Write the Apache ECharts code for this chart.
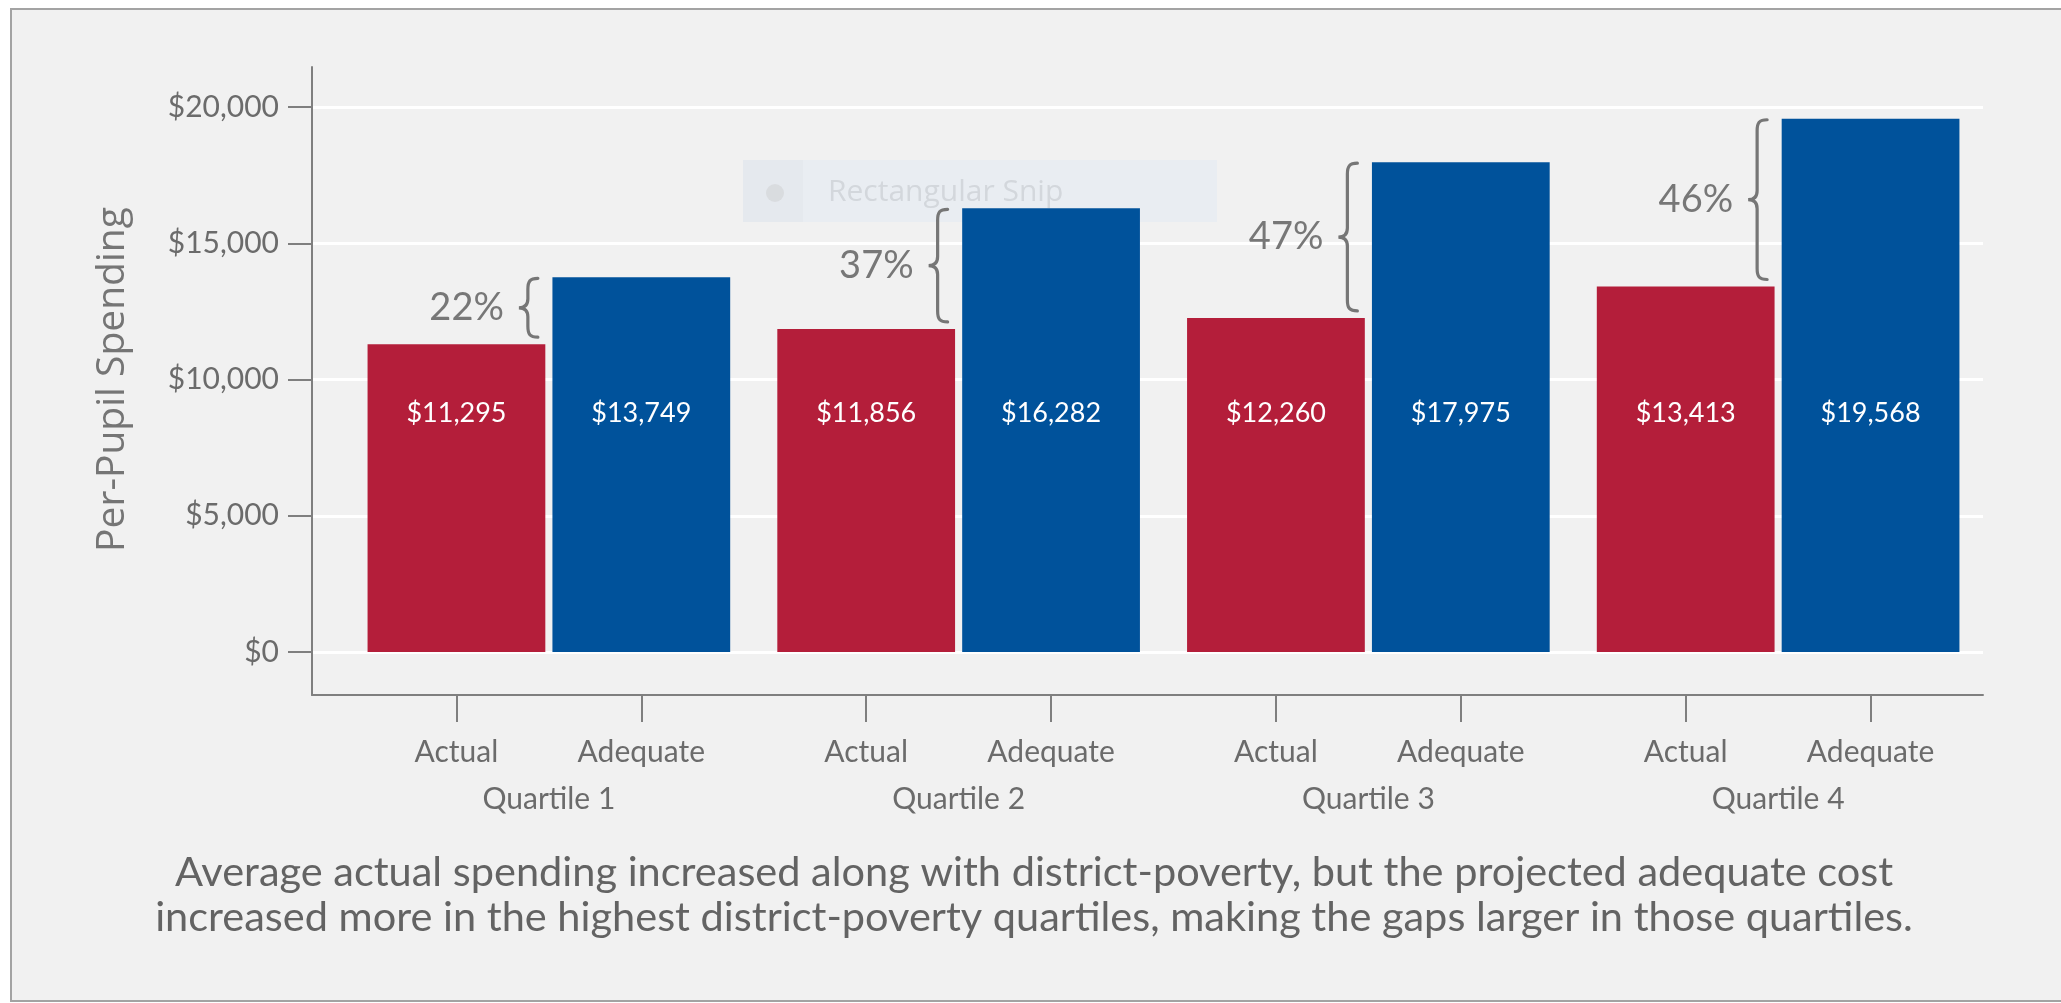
<!DOCTYPE html>
<html>
<head>
<meta charset="utf-8">
<script src="https://cdn.jsdelivr.net/npm/echarts@6/dist/echarts.min.js"></script>
<style>
  html, body { margin: 0; padding: 0; background: #ffffff; }
  #chart { width: 2061px; height: 1003px; }
</style>
</head>
<body>
<div id="chart"></div>
<script>
// ---- data ----
const quartiles = ['Quartile 1', 'Quartile 2', 'Quartile 3', 'Quartile 4'];
const barNames = ['Actual', 'Adequate'];
const actual = [11295, 11856, 12260, 13413];
const adequate = [13749, 16282, 17975, 19568];
const gapLabels = ['22%', '37%', '47%', '46%'];
const yMin = 0, yMax = 20000, yStep = 5000;
const caption = 'Average actual spending increased along with district-poverty, but the projected adequate cost\nincreased more in the highest district-poverty quartiles, making the gaps larger in those quartiles.';

// ---- layout / style ----
const CAT_GAP = 0.115, BAR_GAP = 0.04;
const barW = (1 - CAT_GAP) / (2 + BAR_GAP);
const half = barW * (1 + BAR_GAP) / 2;
const tickPos = [];
quartiles.forEach((q, i) => { tickPos.push(i + 0.5 - half, i + 0.5 + half); });

const gray = '#7f7f7f';
const labelColor = '#6b6b6b';
const FONT = 'Lato';

const money = v => '$' + Number(v).toLocaleString('en-US');

const chart = echarts.init(document.getElementById('chart'), null, { renderer: 'canvas' });

function renderBrace(params, api) {
  const i = api.value(0);
  const cx = api.coord([i, 0])[0];
  const yT = api.coord([i, api.value(2)])[1] + 1;
  const yB = api.coord([i, api.value(1)])[1] - 7;
  const sx = cx - 21;
  const m = (yT + yB) / 2;
  const p = [
    'M', sx + 10, yT,
    'C', sx + 2, yT, sx, yT + 3, sx, yT + 11,
    'L', sx, m - 9,
    'C', sx, m - 3, sx - 3, m, sx - 9, m,
    'C', sx - 3, m, sx, m + 3, sx, m + 9,
    'L', sx, yB - 11,
    'C', sx, yB - 3, sx + 2, yB, sx + 10, yB
  ].join(' ');
  return {
    type: 'group',
    children: [
      { type: 'path', shape: { pathData: p }, style: { fill: 'none', stroke: '#767676', lineWidth: 3.2, lineCap: 'round' } },
      { type: 'text', style: { text: gapLabels[params.dataIndex], x: sx - 24, y: m, align: 'right', verticalAlign: 'middle', fontFamily: FONT, fontSize: 38, fill: '#777777' } }
    ]
  };
}

const option = {
  backgroundColor: '#ffffff',
  animation: false,
  graphic: [
    { type: 'rect', z: -10, shape: { x: 11, y: 9, width: 2080, height: 992 }, style: { fill: '#f1f1f1', stroke: '#a3a3a3', lineWidth: 2 } },
    { type: 'group', z: 1, children: [
      { type: 'rect', shape: { x: 743, y: 160, width: 474, height: 62 }, style: { fill: '#e9edf2' } },
      { type: 'rect', shape: { x: 743, y: 160, width: 60, height: 62 }, style: { fill: '#e5e9ee' } },
      { type: 'circle', shape: { cx: 775, cy: 193, r: 9 }, style: { fill: '#d9dcdf' } },
      { type: 'text', style: { text: 'Rectangular Snip', x: 828, y: 192, verticalAlign: 'middle', fontFamily: 'Open Sans', fontSize: 30, fill: '#d3d7dc' } }
    ] },
    { type: 'text', z: 5, style: { text: caption, x: 1034, y: 895, align: 'center', verticalAlign: 'middle', fontFamily: FONT, fontSize: 41.5, lineHeight: 45, fill: '#636363' } }
  ],
  grid: [
    { left: 312, right: 78, top: 107, bottom: 351 },
    { left: 344, right: 78, top: 107, bottom: 351 },
    { left: 312, right: 78, top: 67, bottom: 308 }
  ],
  xAxis: [
    { type: 'category', gridIndex: 1, position: 'bottom', data: quartiles, offset: 43,
      axisLine: { show: false }, axisTick: { show: false },
      axisLabel: { margin: 89, fontFamily: FONT, fontSize: 30, color: labelColor, lineHeight: 30 } },
    { type: 'value', gridIndex: 1, position: 'bottom', min: 0, max: quartiles.length, offset: 43,
      axisLine: { show: false }, splitLine: { show: false },
      axisTick: { show: true, customValues: tickPos, length: 27, lineStyle: { color: gray, width: 2 } },
      axisLabel: { show: true, customValues: tickPos, margin: 42, fontFamily: FONT, fontSize: 30, color: labelColor, lineHeight: 30,
        formatter: v => { const k = tickPos.findIndex(p => Math.abs(p - v) < 1e-6); return k < 0 ? '' : barNames[k % 2]; } } },
    { type: 'value', gridIndex: 0, show: false },
    { type: 'value', gridIndex: 2, position: 'bottom', min: 0, max: 1,
      axisLine: { show: true, onZero: false, lineStyle: { color: gray, width: 2 } },
      axisTick: { show: false }, axisLabel: { show: false }, splitLine: { show: false } }
  ],
  yAxis: [
    { type: 'value', gridIndex: 0, position: 'left', min: yMin, max: yMax, interval: yStep,
      name: 'Per-Pupil Spending', nameLocation: 'middle', nameGap: 180,
      nameTextStyle: { fontFamily: 'Open Sans', fontSize: 39, color: '#757575' },
      axisLine: { show: false },
      axisTick: { show: true, length: 24, lineStyle: { color: gray, width: 2 } },
      axisLabel: { margin: 33, fontFamily: FONT, fontSize: 30, color: labelColor, formatter: money },
      splitLine: { show: true, lineStyle: { color: '#ffffff', width: 3 } } },
    { type: 'value', gridIndex: 1, min: yMin, max: yMax, show: false },
    { type: 'value', gridIndex: 2, position: 'left', min: 0, max: 1,
      axisLine: { show: true, onZero: false, lineStyle: { color: gray, width: 2 } },
      axisTick: { show: false }, axisLabel: { show: false }, splitLine: { show: false } }
  ],
  series: [
    { type: 'bar', name: barNames[0], xAxisIndex: 0, yAxisIndex: 1, data: actual,
      barGap: (BAR_GAP * 100) + '%', barCategoryGap: (CAT_GAP * 100) + '%',
      itemStyle: { color: '#B41E3A' },
      label: { show: true, position: 'insideBottom', distance: 225, formatter: p => money(p.value),
        color: '#ffffff', fontFamily: FONT, fontSize: 27, lineHeight: 28 } },
    { type: 'bar', name: barNames[1], xAxisIndex: 0, yAxisIndex: 1, data: adequate,
      barGap: (BAR_GAP * 100) + '%', barCategoryGap: (CAT_GAP * 100) + '%',
      itemStyle: { color: '#00529B' },
      label: { show: true, position: 'insideBottom', distance: 225, formatter: p => money(p.value),
        color: '#ffffff', fontFamily: FONT, fontSize: 27, lineHeight: 28 } },
    { type: 'custom', xAxisIndex: 0, yAxisIndex: 1, z: 4, clip: false,
      data: quartiles.map((q, i) => [i, actual[i], adequate[i]]),
      renderItem: renderBrace }
  ]
};
chart.setOption(option);
</script>
</body>
</html>
